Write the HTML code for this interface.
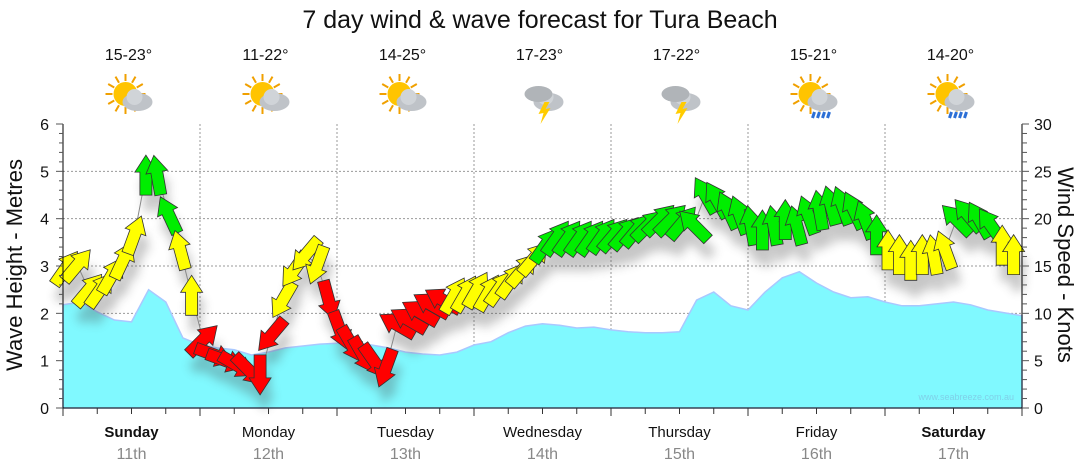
<!DOCTYPE html>
<html><head><meta charset="utf-8"><style>
body{margin:0;background:#fff;}
svg{display:block;font-family:"Liberation Sans",sans-serif;}
</style></head><body>
<svg id="chart" width="1080" height="475">
<defs>
<filter id="sh" x="-50%" y="-50%" width="200%" height="200%"><feGaussianBlur stdDeviation="5"/></filter>
</defs>
<text x="540" y="28" font-size="25" text-anchor="middle" fill="#111">7 day wind &amp; wave forecast for Tura Beach</text>
<g id="icons"></g>
<g id="grid"></g>
<path id="wave" fill="#80f9ff" stroke="#a9c8ff" stroke-width="1.5"/>
<g id="windshadow" filter="url(#sh)" opacity="0.3"></g>
<path id="windline" fill="none" stroke="#888" stroke-width="1"/>
<g id="wind"></g>
<g id="axes"></g>
<text x="1014" y="400" font-size="9" text-anchor="end" fill="#7fd0e8">www.seabreeze.com.au</text>
<text transform="translate(22,265) rotate(-90)" font-size="22" text-anchor="middle" fill="#111">Wave Height - Metres</text>
<text transform="translate(1058,265) rotate(90)" font-size="22" text-anchor="middle" fill="#111">Wind Speed - Knots</text>
</svg>
<script>
const days=["Sunday","Monday","Tuesday","Wednesday","Thursday","Friday","Saturday"];
const dates=["11th","12th","13th","14th","15th","16th","17th"];
const temps=["15-23°","11-22°","14-25°","17-23°","17-22°","15-21°","14-20°"];
const weather=["cloud","cloud","cloud","storm","storm","rain","rain"];
const waveTicks=[0,1,2,3,4,5,6];
const windTicks=[0,5,10,15,20,25,30];
// wave height every 3h (m)
const waveH=[2.18,2.24,2.03,1.86,1.82,2.5,2.24,1.48,1.33,1.27,1.23,1.12,1.18,1.27,1.31,1.35,1.37,1.37,1.33,1.27,1.18,1.14,1.12,1.18,1.33,1.40,1.59,1.73,1.78,1.75,1.69,1.71,1.65,1.61,1.59,1.59,1.61,2.28,2.45,2.16,2.07,2.45,2.75,2.88,2.64,2.45,2.33,2.35,2.24,2.16,2.16,2.2,2.24,2.18,2.07,2.01,1.95];
// wind speed every 2h (knots)
const windS=[14.8,15.1,12.5,12.5,14,15.6,18.3,24.6,24.6,20.4,16.7,11.9,7.2,5.6,5,4.5,4,3.5,7.7,11.4,14.6,16.2,15.1,11.4,8.2,6.7,5.6,4.9,4.2,8.8,9.3,10.1,10.9,11.4,11.9,12.1,12.5,12.2,12.7,13.5,14.6,15.8,17.2,18,18,18,18,18.2,18.3,18.5,18.8,19.3,19.9,19.9,19.6,19.3,22.5,22,20.9,20.4,19.3,18.8,19.3,19.9,19.3,20.4,20.9,21.4,21.4,20.9,19.9,18.3,16.7,16.2,15.6,16.2,16.2,16.7,19.9,20.4,19.9,19.3,17.2,16.2];
const windDir=[35,40,40,35,30,25,20,0,-10,-25,-15,0,45,110,110,120,135,180,220,210,215,220,200,165,160,150,150,145,200,300,300,300,300,300,30,30,30,30,35,35,40,40,35,35,35,35,35,35,40,40,40,45,45,45,40,-45,-30,-30,-25,-20,-10,0,-10,0,-15,-20,-10,-15,-20,-25,-20,0,0,0,0,0,-10,-20,-45,-40,-30,-35,0,0];
const windCol=["y","y","y","y","y","y","y","g","g","g","y","y","r","r","r","r","r","r","r","y","y","y","y","r","r","r","r","r","r","r","r","r","r","r","y","y","y","y","y","y","y","y","g","g","g","g","g","g","g","g","g","g","g","g","g","g","g","g","g","g","g","g","g","g","g","g","g","g","g","g","g","g","y","y","y","y","y","y","g","g","g","g","y","y"];

const NS="http://www.w3.org/2000/svg";
const X0=63,X1=1022,Y0=408,Y1=124,DW=(X1-X0)/7;
const yW=v=>Y0-(v/6)*(Y0-Y1);
const yK=v=>Y0-(v/30)*(Y0-Y1);
const xWave=i=>X0+i*DW/8;
const xWind=i=>66+i*DW/12;
function mk(t,a,p){const e=document.createElementNS(NS,t);for(const k in a)e.setAttribute(k,a[k]);(p||document.getElementById('chart')).appendChild(e);return e;}
const grid=document.getElementById('grid'),axes=document.getElementById('axes'),icons=document.getElementById('icons');
waveTicks.forEach(v=>{if(v>0&&v<6){const l=mk('line',{x1:X0,x2:X1,y1:yW(v),y2:yW(v),stroke:'#999','stroke-dasharray':'2,2'},grid);

}});
for(let d=1;d<7;d++){const l=mk('line',{x1:X0+d*DW,x2:X0+d*DW,y1:Y1,y2:Y0,stroke:'#999','stroke-dasharray':'2,2'},grid);

}
let dp=`M${X0},${Y0}`;waveH.forEach((v,i)=>dp+=` L${xWave(i).toFixed(1)},${yW(v).toFixed(1)}`);dp+=` L${X1},${Y0} Z`;
document.getElementById('wave').setAttribute('d',dp);
const cols={y:'#ffff00',g:'#00ee00',r:'#ff0000'};
const ap="M0,-20 L11,-3 L6,-3 L6,20 L-6,20 L-6,-3 L-11,-3 Z";
let lp='';windS.forEach((v,i)=>lp+=(i?' L':'M')+xWind(i).toFixed(1)+','+yK(v).toFixed(1));
document.getElementById('windline').setAttribute('d',lp);
const ws=document.getElementById('windshadow'),wg=document.getElementById('wind');
windS.forEach((v,i)=>{
 mk('path',{d:ap,transform:`translate(${(xWind(i)+4).toFixed(1)},${(yK(v)+16).toFixed(1)}) rotate(${windDir[i]})`,fill:'#444'},ws);
 const a=mk('path',{d:ap,transform:`translate(${xWind(i).toFixed(1)},${yK(v).toFixed(1)}) rotate(${windDir[i]})`,fill:cols[windCol[i]],stroke:'#333','stroke-width':0.8},wg);
 
 
});
mk('line',{x1:X0,x2:X0,y1:Y1,y2:Y0,stroke:'#000'},axes);
mk('line',{x1:X1,x2:X1,y1:Y1,y2:Y0,stroke:'#000'},axes);
mk('line',{x1:X0,x2:X1,y1:Y0,y2:Y0,stroke:'#000'},axes);
for(let k=0;k<=30;k++){const y=yW(k/5);mk('line',{x1:X0-(k%5?4:7),x2:X0,y1:y,y2:y,stroke:'#555'},axes);}
for(let k=0;k<=30;k++){const y=yK(k);mk('line',{x1:X1,x2:X1+(k%5?5:7),y1:y,y2:y,stroke:'#555'},axes);}
waveTicks.forEach(v=>{const t=mk('text',{x:X0-14,y:yW(v)+6,'font-size':16,'text-anchor':'end',fill:'#111'},axes);t.textContent=v;

});
windTicks.forEach(v=>{const t=mk('text',{x:X1+12,y:yK(v)+6,'font-size':16,fill:'#111'},axes);t.textContent=v;

});
for(let k=0;k<=28;k++){const x=X0+k*DW/4;mk('line',{x1:x,x2:x,y1:Y0,y2:Y0+(k%4?6:8),stroke:'#333'},axes);}
function icon(cx,cy,type,p){
 const g=mk('g',{},p);
 if(type!=='storm'){for(let r=0;r<12;r++){const a=r*Math.PI/6;mk('line',{x1:cx-6+Math.cos(a)*13,y1:cy-4+Math.sin(a)*13,x2:cx-6+Math.cos(a)*20,y2:cy-4+Math.sin(a)*20,stroke:'#f0a000','stroke-width':2},g);}
 mk('circle',{cx:cx-6,cy:cy-4,r:12,fill:'#ffc400'},g);}
 mk('ellipse',{cx:cx+6,cy:cy+4,rx:15,ry:9,fill:'#bfc3c8'},g);
 mk('circle',{cx:cx+3,cy:cy-1,r:8,fill:'#d0d4d8'},g);
 if(type==='storm'){mk('ellipse',{cx:cx-4,cy:cy-4,rx:14,ry:8,fill:'#b0b4b8'},g);mk('polygon',{points:`${cx+2},${cy+4} ${cx-4},${cy+16} ${cx+1},${cy+15} ${cx-2},${cy+26} ${cx+8},${cy+10} ${cx+3},${cy+11} ${cx+7},${cy+4}`,fill:'#ffcc00'},g);}
 if(type==='rain'){for(let r=0;r<4;r++)mk('line',{x1:cx-2+r*5,y1:cy+14,x2:cx-4+r*5,y2:cy+20,stroke:'#2c6fd6','stroke-width':3},g);}
 return g;}
days.forEach((d,i)=>{const cx=X0+DW*(i+0.5);
 const t=mk('text',{x:cx,y:437,'font-size':15,'text-anchor':'middle',fill:'#111','font-weight':(i==0||i==6)?'bold':'normal'},axes);t.textContent=d;
 
 
 const t2=mk('text',{x:cx,y:459,'font-size':16,'text-anchor':'middle',fill:'#888'},axes);t2.textContent=dates[i];
 
 
 const t3=mk('text',{x:cx-3,y:60,'font-size':16,'text-anchor':'middle',fill:'#111'},icons);t3.textContent=temps[i];
 
 
 const g=icon(cx,98,weather[i],icons);
 
 
});
</script>
</body></html>
